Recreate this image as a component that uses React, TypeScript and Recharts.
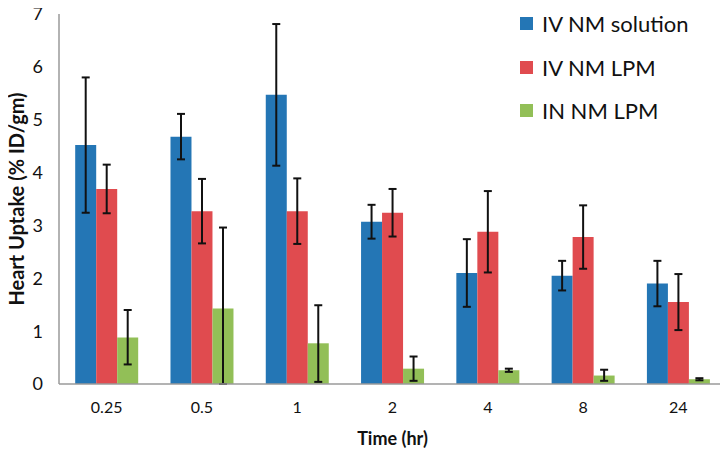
import { BarChart, Bar, XAxis, YAxis, ErrorBar } from 'recharts';

const times = ['0.25', '0.5', '1', '2', '4', '8', '24'];
const ivSolution = [4.52, 4.68, 5.47, 3.07, 2.1, 2.05, 1.9];
const ivSolutionErr = [1.28, 0.43, 1.34, 0.32, 0.64, 0.28, 0.43];
const ivLpm = [3.69, 3.27, 3.27, 3.24, 2.88, 2.78, 1.55];
const ivLpmErr = [0.46, 0.61, 0.62, 0.45, 0.77, 0.6, 0.53];
const inLpm = [0.88, 1.43, 0.77, 0.29, 0.26, 0.16, 0.09];
const inLpmErr: [number, number][] = [
  [0.51, 0.52],
  [1.43, 1.53],
  [0.73, 0.72],
  [0.23, 0.23],
  [0.03, 0.03],
  [0.1, 0.11],
  [0.02, 0.02],
];
const yTicks = [0, 1, 2, 3, 4, 5, 6, 7];

const series = [
  { key: 'ivSolution', name: 'IV NM solution', color: '#2476b5' },
  { key: 'ivLpm', name: 'IV NM LPM', color: '#e04b4f' },
  { key: 'inLpm', name: 'IN NM LPM', color: '#92bf57' },
];

const data = times.map((t, i) => ({
  time: t,
  ivSolution: ivSolution[i],
  ivSolutionErr: ivSolutionErr[i],
  ivLpm: ivLpm[i],
  ivLpmErr: ivLpmErr[i],
  inLpm: inLpm[i],
  inLpmErr: inLpmErr[i],
}));

const font = 'Lato, "Open Sans", sans-serif';

// legend sits over the plot, top-right, like the original
const LegendBox = () => (
  <div style={{ position: 'absolute', top: 2, left: 520, fontFamily: font, fontSize: 22, color: '#111' }}>
    {series.map((s) => (
      <div key={s.key} style={{ display: 'flex', alignItems: 'center', height: 43.5 }}>
        <span style={{ width: 13, height: 13, background: s.color, marginRight: 9, display: 'inline-block' }} />
        {s.name}
      </div>
    ))}
  </div>
);

const App = () => {
  return (
    <div style={{ position: 'relative', margin: '-8px 0 0 -8px', width: 728, height: 451, background: '#fff' }}>
      <BarChart
        width={728}
        height={451}
        data={data}
        margin={{ top: 14, right: 2, bottom: 0, left: 0 }}
        barCategoryGap="17%"
        barGap={0}
      >
        <XAxis
          dataKey="time"
          height={67}
          tickLine={false}
          axisLine={{ stroke: '#9a9a9a', strokeWidth: 1.5 }}
          tick={{ fontFamily: font, fontSize: 16, fill: '#111' }}
          tickMargin={12}
          label={{
            value: 'Time (hr)',
            position: 'insideBottom',
            offset: 6,
            style: { fontFamily: font, fontSize: 18, fontWeight: 'bold', fill: '#111' },
          }}
        />
        <YAxis
          width={59}
          domain={[0, 7]}
          ticks={yTicks}
          interval={0}
          tickLine={false}
          axisLine={{ stroke: '#9a9a9a', strokeWidth: 1.5 }}
          tick={{ fontFamily: font, fontSize: 18, fill: '#111' }}
          tickMargin={10}
          label={{
            value: 'Heart Uptake (% ID/gm)',
            angle: -90,
            position: 'insideLeft',
            offset: 17,
            style: { fontFamily: font, fontSize: 20, fontWeight: 'bold', fill: '#111', textAnchor: 'middle' },
          }}
        />
        {series.map((s) => (
          <Bar key={s.key} dataKey={s.key} name={s.name} fill={s.color} isAnimationActive={false}>
            <ErrorBar dataKey={`${s.key}Err`} width={4} stroke="#111" strokeWidth={2} direction="y" />
          </Bar>
        ))}
      </BarChart>
      <LegendBox />
    </div>
  );
};

export default App;
